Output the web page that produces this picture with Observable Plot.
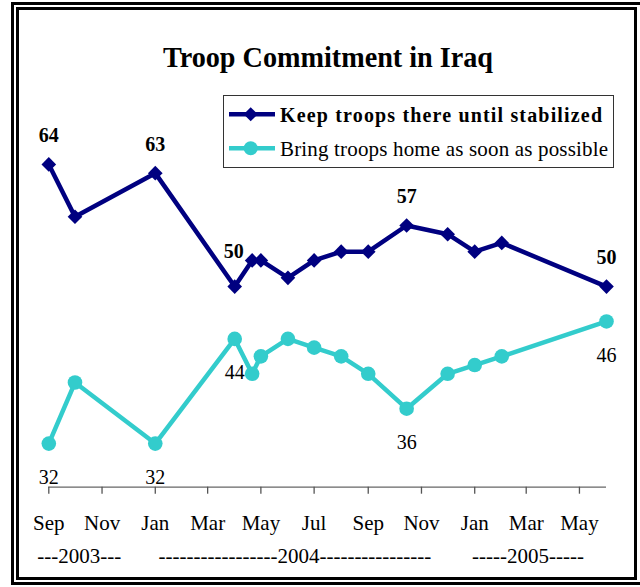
<!DOCTYPE html>
<html><head><meta charset="utf-8">
<script src="https://cdn.jsdelivr.net/npm/d3@7"></script>
<script src="https://cdn.jsdelivr.net/npm/@observablehq/plot@0.6"></script>
<style>html,body{margin:0;padding:0;background:#fff}</style>
</head><body><div id="chart"></div>
<script>
const surveyDates = ["2003-09-01","2003-10-01","2004-01-01","2004-04-01","2004-04-21","2004-05-01","2004-06-01","2004-07-01","2004-08-01","2004-09-01","2004-10-15","2004-12-01","2005-01-01","2005-02-01","2005-06-01"];
const keepTroops = [64,58,63,50,53,53,51,53,54,54,57,56,54,55,50];
const bringHome  = [32,39,32,44,40,42,44,43,42,40,36,40,41,42,46];
const labeledIdx = [0,2,3,10,14];
const seriesNames = ["Keep troops there until stabilized","Bring troops home as soon as possible"];
const tickDates = ["2003-09-01","2003-11-01","2004-01-01","2004-03-01","2004-05-01","2004-07-01","2004-09-01","2004-11-01","2005-01-01","2005-03-01","2005-05-01"];
const tickLabels = ["Sep","Nov","Jan","Mar","May","Jul","Sep","Nov","Jan","Mar","May"];
const yearLabels = ["---2003---","-----------------2004----------------","-----2005-----"];
const yearCenters = ["2003-10-06","2004-06-09","2005-03-03"];
const chartTitle = "Troop Commitment in Iraq";

const NAVY = "#000080", TEAL = "#33CCCC";
const FONT = "'Liberation Serif','Times New Roman',Times,serif";
const parse = d3.utcParse("%Y-%m-%d");

const keepData = surveyDates.map((d,i)=>({date:parse(d), value:keepTroops[i], i}));
const homeData = surveyDates.map((d,i)=>({date:parse(d), value:bringHome[i], i}));
const ticks = tickDates.map(parse);
const yearData = yearLabels.map((t,i)=>({label:t, date:parse(yearCenters[i])}));
const yDomain = [27, 70];

const plot = Plot.plot({
  width: 640, height: 587,
  marginLeft: 48.3, marginRight: 34, marginTop: 111.6, marginBottom: 100.3,
  style: {fontFamily: FONT, fontSize: "21px", background: "white", color: "black"},
  x: {type: "utc", domain: [parse("2003-09-01"), parse("2005-06-01")]},
  y: {domain: yDomain, axis: null},
  marks: [
    Plot.ruleY([yDomain[0]], {stroke: "#666", strokeWidth: 1.3}),
    Plot.axisX({ticks, tickFormat: d => tickLabels[ticks.findIndex(t => +t === +d)], tickSize: 7, tickPadding: 21, fontSize: 21, stroke: "#555", strokeWidth: 1.3, label: null}),
    Plot.text(yearData, {x: "date", text: "label", frameAnchor: "bottom", dy: 76, lineAnchor: "bottom", fontSize: 21, fill: "black"}),
    Plot.line(homeData, {x: "date", y: "value", stroke: TEAL, strokeWidth: 4.5}),
    Plot.line(keepData, {x: "date", y: "value", stroke: NAVY, strokeWidth: 4.5}),
    Plot.dot(homeData, {x: "date", y: "value", symbol: "circle", r: 7.3, fill: TEAL, stroke: null}),
    Plot.dot(keepData, {x: "date", y: "value", symbol: "diamond2", r: 6.6, fill: NAVY, stroke: null}),
    Plot.text(keepData.filter(d => labeledIdx.includes(d.i) && d.i !== 3), {x: "date", y: "value", text: d => String(d.value), dy: -29, fontSize: 20, fontWeight: "bold", fill: "black"}),
    Plot.text(keepData.filter(d => d.i === 3), {x: "date", y: "value", text: d => String(d.value), dy: -35, dx: -1, fontSize: 20, fontWeight: "bold", fill: "black"}),
    Plot.text(homeData.filter(d => labeledIdx.includes(d.i)), {x: "date", y: "value", text: d => String(d.value), dy: 34, fontSize: 20, fill: "black"})
  ]
});
document.getElementById("chart").appendChild(plot);

const svg = d3.select(plot);
// double frame
svg.append("rect").attr("x",12.5).attr("y",3.5).attr("width",629).attr("height",580).attr("fill","none").attr("stroke","black").attr("stroke-width",3);
svg.append("rect").attr("x",17.5).attr("y",8.5).attr("width",618).attr("height",570).attr("fill","none").attr("stroke","black").attr("stroke-width",3);
// title
svg.append("text").attr("x",328).attr("y",67).attr("text-anchor","middle")
  .attr("font-family",FONT).attr("font-size",30).attr("font-weight","bold")
  .attr("textLength",330).attr("lengthAdjust","spacingAndGlyphs").attr("fill","black").text(chartTitle);
// legend
const lg = svg.append("g").attr("text-anchor","start");
lg.append("rect").attr("x",223.5).attr("y",95.5).attr("width",390).attr("height",72).attr("fill","white").attr("stroke","#333").attr("stroke-width",1);
lg.append("line").attr("x1",229).attr("x2",275).attr("y1",114.3).attr("y2",114.3).attr("stroke",NAVY).attr("stroke-width",4.5);
lg.append("path").attr("d",d3.symbol(d3.symbolDiamond2,125)()).attr("transform","translate(250.7,114.3)").attr("fill",NAVY);
lg.append("line").attr("x1",229).attr("x2",275).attr("y1",148.3).attr("y2",148.3).attr("stroke",TEAL).attr("stroke-width",4.5);
lg.append("circle").attr("cx",250.7).attr("cy",148.3).attr("r",7).attr("fill",TEAL);
lg.append("text").attr("x",280).attr("y",121.5).attr("text-anchor","start").attr("font-family",FONT).attr("font-size",20).attr("font-weight","bold")
  .attr("textLength",322).attr("lengthAdjust","spacing").attr("fill","black").text(seriesNames[0]);
lg.append("text").attr("x",280).attr("y",155.5).attr("text-anchor","start").attr("font-family",FONT).attr("font-size",21)
  .attr("textLength",328).attr("lengthAdjust","spacing").attr("fill","black").text(seriesNames[1]);
</script>
</body></html>
